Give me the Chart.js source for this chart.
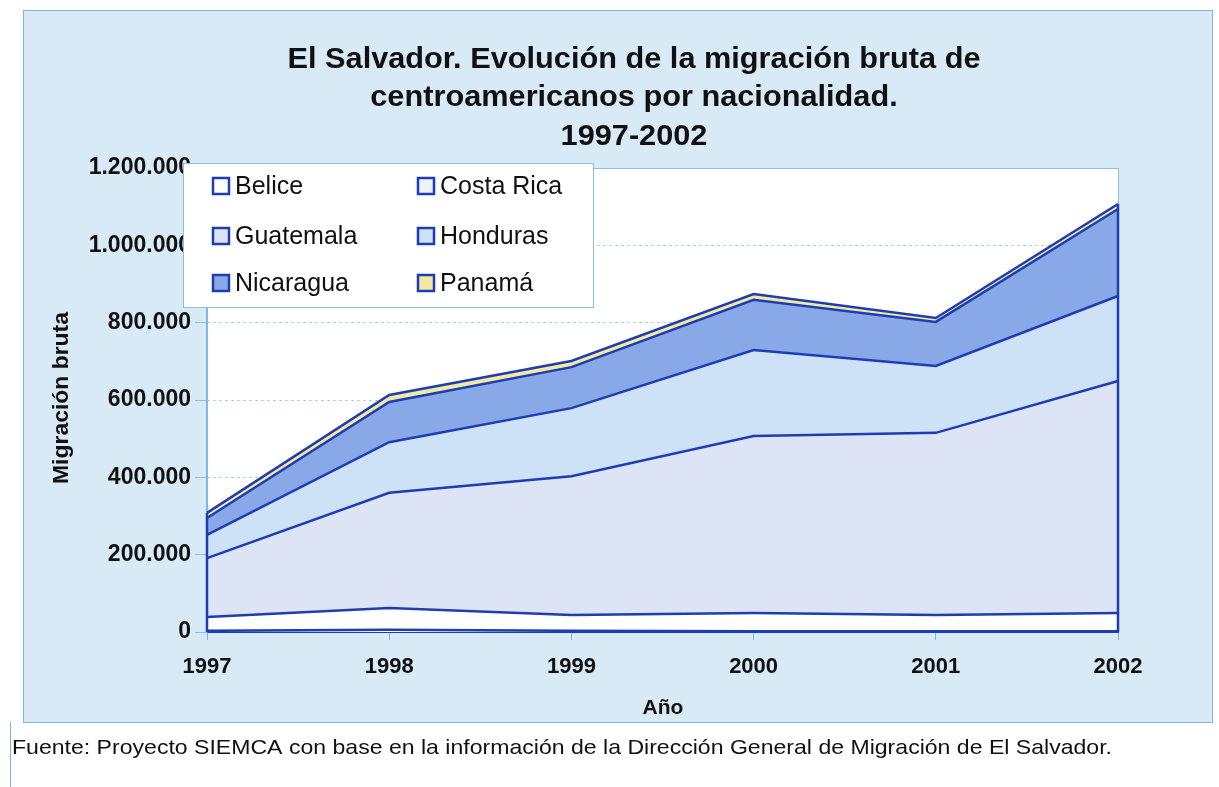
<!DOCTYPE html>
<html>
<head>
<meta charset="utf-8">
<script src="https://cdn.jsdelivr.net/npm/chart.js@4.4.0/dist/chart.umd.min.js"></script>
<style>
html,body{margin:0;padding:0;background:#fff;}
#wrap{width:1219px;height:787px;position:relative;}
</style>
</head>
<body>
<div id="wrap"><canvas id="c" width="1219" height="787"></canvas></div>
<script>
// ---- data ----
const years = ['1997', '1998', '1999', '2000', '2001', '2002'];
const seriesNames = ['Belice', 'Costa Rica', 'Guatemala', 'Honduras', 'Nicaragua', 'Panamá'];
const belice    = [3000, 6000, 3000, 2000, 2000, 2000];
const costaRica = [36000, 56000, 41000, 47000, 42000, 47000];
const guatemala = [152000, 298000, 359000, 458000, 471000, 600000];
const honduras  = [60000, 131000, 176000, 222000, 173000, 220000];
const nicaragua = [44000, 104000, 106000, 130000, 114000, 225000];
const panama    = [13000, 18000, 16000, 15000, 10000, 13000];
const yTickLabels = ['0', '200.000', '400.000', '600.000', '800.000', '1.000.000', '1.200.000'];
const titleLines = ['El Salvador. Evolución de la migración bruta de', 'centroamericanos por nacionalidad.', '1997-2002'];
const yTitle = 'Migración bruta';
const xTitle = 'Año';
const sourceNote = 'Fuente: Proyecto SIEMCA con base en la información de la Dirección General de Migración de El Salvador.';

const seriesValues = [belice, costaRica, guatemala, honduras, nicaragua, panama];
const fills = ['#ffffff', '#ffffff', '#dde4f6', '#cde2f7', '#88a8e7', '#f3e9a2'];
const swatches = ['#ffffff', '#eef3fb', '#dde4f6', '#cde2f7', '#88a8e7', '#f3e9a2'];
const lineColor = '#1d3db3';

const datasets = seriesNames.map((n, i) => ({
  label: n,
  data: seriesValues[i],
  fill: i === 0 ? 'origin' : '-1',
  backgroundColor: fills[i],
  borderColor: lineColor,
  borderWidth: 2.5,
  pointRadius: 0,
  tension: 0
}));

const bgPlugin = {
  id: 'bg',
  beforeDraw(chart) {
    const ctx = chart.ctx, a = chart.chartArea;
    ctx.save();
    ctx.fillStyle = '#ffffff';
    ctx.fillRect(0, 0, chart.width, chart.height);
    ctx.fillStyle = '#d9eaf7';
    ctx.fillRect(23, 10, 1189, 712);
    ctx.strokeStyle = '#7db3e6';
    ctx.lineWidth = 1;
    ctx.strokeRect(23.5, 10.5, 1189, 712);
    ctx.beginPath(); ctx.moveTo(10.5, 722); ctx.lineTo(10.5, 787); ctx.stroke();
    ctx.fillStyle = '#ffffff';
    ctx.fillRect(a.left, a.top, a.right - a.left, a.bottom - a.top);
    ctx.strokeStyle = '#8cbde9';
    ctx.strokeRect(a.left + 0.5, a.top + 0.5, a.right - a.left, a.bottom - a.top);
    ctx.restore();
  },
  afterDatasetsDraw(chart) {
    const ctx = chart.ctx, ys = chart.scales.y, xs = chart.scales.x;
    const last = years.length - 1;
    const tot = i => seriesValues.reduce((s, arr) => s + arr[i], 0);
    ctx.save();
    ctx.strokeStyle = lineColor;
    ctx.lineWidth = 2.5;
    [0, last].forEach(i => {
      const x = xs.getPixelForValue(i);
      ctx.beginPath();
      ctx.moveTo(x, ys.getPixelForValue(0));
      ctx.lineTo(x, ys.getPixelForValue(tot(i)));
      ctx.stroke();
    });
    ctx.restore();
  },
  afterDraw(chart) {
    const ctx = chart.ctx;
    ctx.save();
    // legend box
    const lx = 183, ly = 163, lw = 410, lh = 144;
    ctx.fillStyle = '#ffffff';
    ctx.fillRect(lx, ly, lw, lh);
    ctx.strokeStyle = '#8cbde9';
    ctx.lineWidth = 1;
    ctx.strokeRect(lx + 0.5, ly + 0.5, lw, lh);
    ctx.font = '25px "Liberation Sans", Arial, sans-serif';
    ctx.textBaseline = 'middle';
    ctx.textAlign = 'left';
    const rowsY = [186, 236, 283];
    const colsX = [213, 418];
    chart.data.datasets.forEach((d, i) => {
      const col = i % 2, row = Math.floor(i / 2);
      const sx = colsX[col], sy = rowsY[row];
      ctx.fillStyle = swatches[i];
      ctx.fillRect(sx, sy - 8, 16, 16);
      ctx.strokeStyle = lineColor;
      ctx.lineWidth = 2.5;
      ctx.strokeRect(sx, sy - 8, 16, 16);
      ctx.fillStyle = '#111';
      ctx.fillText(d.label, sx + 22, sy + 1);
    });
    // title
    ctx.fillStyle = '#111';
    ctx.font = 'bold 30px "Liberation Sans", Arial, sans-serif';
    ctx.textAlign = 'center';
    const w0 = ctx.measureText(titleLines[0]).width;
    const sc = 693 / w0;
    const tys = [60, 98, 137];
    titleLines.forEach((t, i) => {
      ctx.save();
      ctx.translate(634, tys[i]);
      ctx.scale(sc, 1);
      ctx.fillText(t, 0, 0);
      ctx.restore();
    });
    // y title
    ctx.font = 'bold 22px "Liberation Sans", Arial, sans-serif';
    const yw = ctx.measureText(yTitle).width;
    ctx.save();
    ctx.translate(62, 398);
    ctx.rotate(-Math.PI / 2);
    ctx.scale(172 / yw, 1);
    ctx.fillText(yTitle, 0, 0);
    ctx.restore();
    // x title
    ctx.font = 'bold 21px "Liberation Sans", Arial, sans-serif';
    ctx.fillText(xTitle, 663, 708);
    // source
    ctx.font = '21px "Liberation Sans", Arial, sans-serif';
    ctx.textAlign = 'left';
    const fw = ctx.measureText(sourceNote).width;
    ctx.save();
    ctx.translate(12, 748);
    ctx.scale(1100 / fw, 1);
    ctx.fillText(sourceNote, 0, 0);
    ctx.restore();
    ctx.restore();
  }
};

new Chart(document.getElementById('c'), {
  type: 'line',
  data: { labels: years, datasets },
  options: {
    responsive: false,
    animation: false,
    layout: { padding: { top: 168, right: 101, bottom: 95, left: 0 } },
    plugins: { legend: { display: false }, tooltip: { enabled: false }, filler: { propagate: false } },
    scales: {
      x: {
        type: 'category',
        offset: false,
        grid: { drawOnChartArea: false, drawTicks: true, tickLength: 8, color: '#7db3e6' },
        border: { color: '#1d3db3', width: 2 },
        ticks: { color: '#111', font: { family: '"Liberation Sans", Arial, sans-serif', size: 22, weight: 'bold' }, padding: 14, maxRotation: 0 },
        afterFit(s) { s.height = 60; }
      },
      y: {
        stacked: true,
        min: 0,
        max: 1200000,
        grid: { color: '#8cbde9', lineWidth: 1, tickLength: 12, tickBorderDash: [], drawTicks: true },
        border: { color: '#7db3e6', width: 1.5, dash: [2, 4] },
        ticks: {
          stepSize: 200000,
          color: '#111',
          padding: 4,
          font: { family: '"Liberation Sans", Arial, sans-serif', size: 23, weight: 'bold' },
          callback: (v, i) => yTickLabels[i]
        },
        afterFit(s) { s.width = 207; }
      }
    }
  },
  plugins: [bgPlugin]
});
</script>
</body>
</html>
